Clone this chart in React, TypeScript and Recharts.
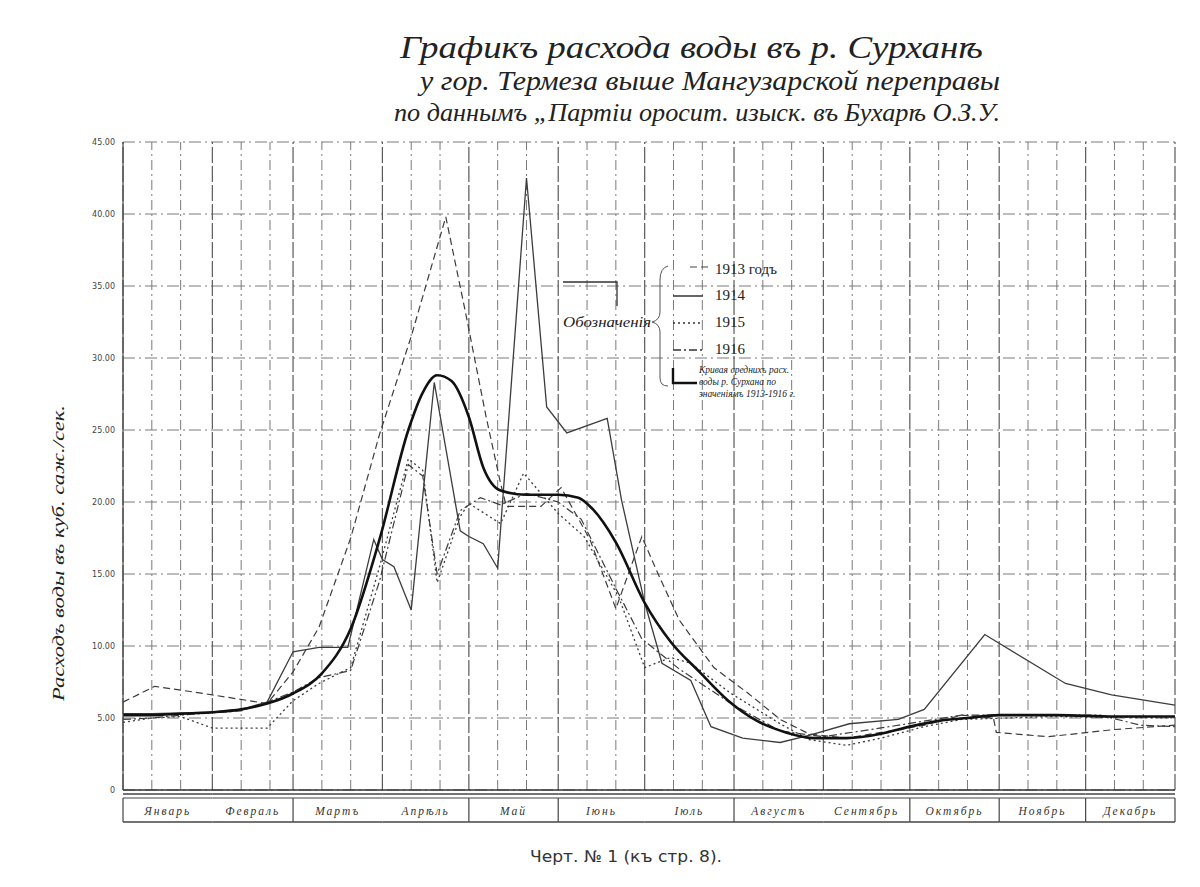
import { LineChart, Line, XAxis, YAxis, CartesianGrid, ReferenceLine } from "recharts";

const W = 1200;
const H = 887;
const PLOT_L = 123;
const PLOT_R = 1175;
const PLOT_T = 142;
const PLOT_B = 790;
const Y_AXIS_W = 35;
const X_AXIS_H = 40;
const PX_PER_DAY = (PLOT_R - PLOT_L) / 365;
const BAND_T = PLOT_B + 8;
const BAND_B = PLOT_B + 32;

const monthNames = ["Январь", "Февраль", "Мартъ", "Апрѣль", "Май", "Іюнь", "Іюль", "Августъ", "Сентябрь", "Октябрь", "Ноябрь", "Декабрь"];
const monthDays = [31, 28, 31, 30, 31, 30, 31, 31, 30, 31, 30, 31];
// months that have a divider on their left side in the bottom band
const bandDividers = [0, 2, 4, 5, 7, 9, 10, 11];

const yTicks = [0, 5, 10, 15, 20, 25, 30, 35, 40, 45];

// day of year (0..365) and discharge
const days1913 = [0, 11, 28, 50, 59, 68, 79, 89, 100, 112, 119, 126, 131, 133, 145, 152, 162, 171, 180, 185, 193, 205, 217, 228, 238, 251, 278, 291, 302, 303, 321, 344, 365];
const flow1913 = [6.1, 7.2, 6.7, 6.0, 8.2, 11.3, 17.5, 24.7, 31.5, 39.8, 33.0, 25.9, 21.3, 19.7, 19.7, 21.0, 17.4, 12.6, 17.6, 15.3, 11.8, 8.5, 6.7, 4.9, 3.9, 3.6, 4.5, 5.2, 5.0, 4.0, 3.7, 4.2, 4.5];

const days1914 = [0, 10, 31, 41, 50, 59, 68, 78, 87, 90, 94, 100, 108, 117, 120, 125, 130, 140, 147, 154, 168, 173, 181, 187, 197, 204, 215, 228, 238, 252, 269, 278, 299, 327, 343, 365];
const flow1914 = [5.3, 5.3, 5.4, 5.6, 6.1, 9.6, 9.9, 9.9, 17.4, 16.0, 15.5, 12.5, 28.3, 18.0, 17.6, 17.1, 15.4, 42.5, 26.6, 24.8, 25.8, 20.1, 13.0, 8.8, 7.6, 4.4, 3.6, 3.3, 3.8, 4.6, 4.9, 5.6, 10.8, 7.4, 6.6, 5.9];

const days1915 = [0, 10, 20, 31, 50, 59, 68, 79, 89, 99, 104, 109, 117, 120, 131, 139, 151, 160, 172, 181, 190, 197, 211, 228, 238, 251, 263, 278, 291, 322, 365];
const flow1915 = [4.7, 5.0, 5.1, 4.3, 4.3, 6.2, 7.4, 8.5, 15.5, 23.0, 22.2, 14.4, 19.0, 19.9, 18.5, 22.0, 19.2, 17.6, 13.4, 8.5, 9.2, 8.8, 6.7, 4.6, 3.5, 3.1, 3.6, 4.4, 4.9, 5.1, 5.0];

const days1916 = [0, 10, 20, 41, 50, 59, 68, 79, 89, 99, 104, 109, 117, 124, 131, 140, 151, 159, 171, 180, 193, 211, 228, 243, 266, 291, 339, 353, 365];
const flow1916 = [4.9, 5.0, 5.2, 5.5, 6.1, 6.8, 7.8, 8.3, 14.5, 22.6, 21.8, 15.0, 19.4, 20.3, 19.8, 20.6, 20.0, 18.8, 14.0, 10.5, 8.4, 6.0, 4.1, 3.7, 4.4, 5.2, 5.2, 4.5, 4.4];

const daysAvg = [0, 10, 20, 31, 41, 50, 59, 69, 79, 89, 99, 104, 109, 114, 120, 125, 131, 140, 151, 158, 163, 171, 181, 190, 200, 210, 220, 230, 240, 251, 263, 273, 283, 293, 304, 324, 344, 365];
const flowAvg = [5.2, 5.2, 5.3, 5.4, 5.6, 6.0, 6.7, 8.1, 11.2, 17.4, 25.0, 27.6, 28.8, 28.4, 25.9, 22.4, 20.8, 20.5, 20.5, 20.3, 19.5, 17.2, 13.0, 10.3, 8.2, 6.2, 4.8, 4.0, 3.6, 3.6, 3.9, 4.4, 4.8, 5.0, 5.2, 5.2, 5.1, 5.1];

const toRows = (days: number[], flow: number[]) => days.map((day, i) => ({ day, v: flow[i] }));

const monthStarts = monthDays.reduce<number[]>((acc, d) => [...acc, acc[acc.length - 1] + d], [0]);
const monthMid = monthDays.map((d, i) => monthStarts[i] + d / 2);
const dekadDays = monthStarts.slice(0, 12).flatMap((s) => [s + 10, s + 20]);

const LINE_COLOR = "#3c3c3c";
const GRID = "#7a7a7a";

function MonthTick(props: any) {
  const { x, payload } = props;
  const i = monthMid.indexOf(payload.value);
  if (i < 0) return null;
  const half = (monthDays[i] / 2) * PX_PER_DAY;
  const x0 = x - half;
  const x1 = x + half;
  return (
    <g>
      <line x1={x0} x2={x1} y1={PLOT_B + 4} y2={PLOT_B + 4} stroke="#444" strokeWidth={1.3} />
      <line x1={x0} x2={x1} y1={BAND_T} y2={BAND_T} stroke="#444" strokeWidth={1.2} />
      <line x1={x0} x2={x1} y1={BAND_B} y2={BAND_B} stroke="#444" strokeWidth={1.4} />
      {bandDividers.includes(i) && <line x1={x0} x2={x0} y1={BAND_T} y2={BAND_B} stroke="#444" strokeWidth={1.2} />}
      {i === 11 && <line x1={x1} x2={x1} y1={BAND_T} y2={BAND_B} stroke="#444" strokeWidth={1.2} />}
      <text x={x} y={BAND_B - 7} textAnchor="middle" fontSize={11.5} fontStyle="italic" letterSpacing={2} fill="#333" fontFamily="Liberation Serif, serif">
        {monthNames[i]}
      </text>
    </g>
  );
}

export default function App() {
  return (
    <div style={{ position: "relative", width: W, height: H, margin: -8, background: "#fff", overflow: "hidden" }}>
      <LineChart
        width={W}
        height={H}
        margin={{ top: PLOT_T, right: W - PLOT_R, left: PLOT_L - Y_AXIS_W, bottom: H - PLOT_B - X_AXIS_H }}
      >
        <CartesianGrid vertical={false} stroke={GRID} strokeDasharray="12 4 2 4" />
        {monthStarts.map((d) => (
          <ReferenceLine key={"m" + d} x={d} stroke="#5a5a5a" strokeWidth={1.2} strokeDasharray="16 3" />
        ))}
        {dekadDays.map((d) => (
          <ReferenceLine key={"d" + d} x={d} stroke={GRID} strokeWidth={1} strokeDasharray="10 4 2 4" />
        ))}
        <ReferenceLine y={0} stroke="#333" strokeWidth={1.5} />
        <XAxis
          type="number"
          dataKey="day"
          domain={[0, 365]}
          ticks={monthMid}
          interval={0}
          tick={<MonthTick />}
          tickLine={false}
          axisLine={false}
          height={X_AXIS_H}
          allowDuplicatedCategory={false}
        />
        <YAxis
          type="number"
          domain={[0, 45]}
          ticks={yTicks}
          width={Y_AXIS_W}
          tickLine={false}
          axisLine={{ stroke: "#444", strokeWidth: 1.2 }}
          tick={{ fontSize: 8, fill: "#444", fontFamily: "DejaVu Sans" }}
          tickFormatter={(v: number) => (v === 0 ? "0" : v.toFixed(2))}
        />
        <Line data={toRows(days1913, flow1913)} dataKey="v" type="linear" stroke={LINE_COLOR} strokeWidth={1.2} strokeDasharray="7 4" dot={false} isAnimationActive={false} />
        <Line data={toRows(days1915, flow1915)} dataKey="v" type="linear" stroke={LINE_COLOR} strokeWidth={1.3} strokeDasharray="2 3" dot={false} isAnimationActive={false} />
        <Line data={toRows(days1916, flow1916)} dataKey="v" type="linear" stroke={LINE_COLOR} strokeWidth={1.2} strokeDasharray="8 3 2 3" dot={false} isAnimationActive={false} />
        <Line data={toRows(days1914, flow1914)} dataKey="v" type="linear" stroke={LINE_COLOR} strokeWidth={1.3} dot={false} isAnimationActive={false} />
        <Line data={toRows(daysAvg, flowAvg)} dataKey="v" type="monotone" stroke="#111" strokeWidth={2.6} dot={false} isAnimationActive={false} />
      </LineChart>

      <svg width={W} height={H} style={{ position: "absolute", left: 0, top: 0, pointerEvents: "none" }}>
        <g fontFamily="Liberation Serif, serif" fontStyle="italic" fill="#222">
          <text x={400} y={58} fontSize={31} textLength={583} lengthAdjust="spacingAndGlyphs">Графикъ расхода воды въ р. Сурханѣ</text>
          <text x={420} y={90} fontSize={27} textLength={580} lengthAdjust="spacingAndGlyphs">у гор. Термеза выше Мангузарской переправы</text>
          <text x={394} y={121} fontSize={26} textLength={606} lengthAdjust="spacingAndGlyphs">по даннымъ „Партіи ороcит. изыск. въ Бухарѣ О.З.У.</text>
          <text transform="translate(64,553) rotate(-90)" textAnchor="middle" fontSize={17} textLength={296} lengthAdjust="spacingAndGlyphs">
            Расходъ воды въ куб. саж./сек.
          </text>
        </g>
        <text x={530} y={862} fontFamily="DejaVu Sans, sans-serif" fontSize={16} fill="#333" textLength={192} lengthAdjust="spacingAndGlyphs">
          Черт. № 1 (къ стр. 8).
        </text>

        {/* legend */}
        <g fill="#222" fontFamily="Liberation Serif, serif">
          <polyline points="563,282 617,282 617,306" fill="none" stroke="#333" strokeWidth={1.3} />
          <text x={563} y={327} fontSize={15} fontStyle="italic" textLength={88} lengthAdjust="spacingAndGlyphs">Обозначенiя</text>
          <path d="M668 266 Q660 268 660 280 L660 312 Q660 320 652 322 Q660 324 660 332 L660 378 Q660 386 668 386" fill="none" stroke="#555" strokeWidth={1} />
          <line x1={690} x2={711} y1={267} y2={267} stroke="#444" strokeWidth={1.2} strokeDasharray="7 4" />
          <text x={715} y={274} fontSize={15}>1913 годъ</text>
          <line x1={673} x2={703} y1={296} y2={296} stroke="#333" strokeWidth={1.5} />
          <text x={715} y={300} fontSize={15}>1914</text>
          <line x1={673} x2={703} y1={323} y2={323} stroke="#333" strokeWidth={1.4} strokeDasharray="2 3" />
          <text x={715} y={327} fontSize={15}>1915</text>
          <line x1={673} x2={703} y1={350} y2={350} stroke="#333" strokeWidth={1.3} strokeDasharray="8 3 2 3" />
          <text x={715} y={354} fontSize={15}>1916</text>
          <polyline points="673,368 673,383 697,383" fill="none" stroke="#111" strokeWidth={2.4} />
          <g fontSize={9.5} fontStyle="italic">
            <text x={699} y={373}>Кривая среднихъ расх.</text>
            <text x={699} y={385}>воды р. Сурхана по</text>
            <text x={699} y={397}>значеніямъ 1913-1916 г.</text>
          </g>
        </g>
      </svg>
    </div>
  );
}
